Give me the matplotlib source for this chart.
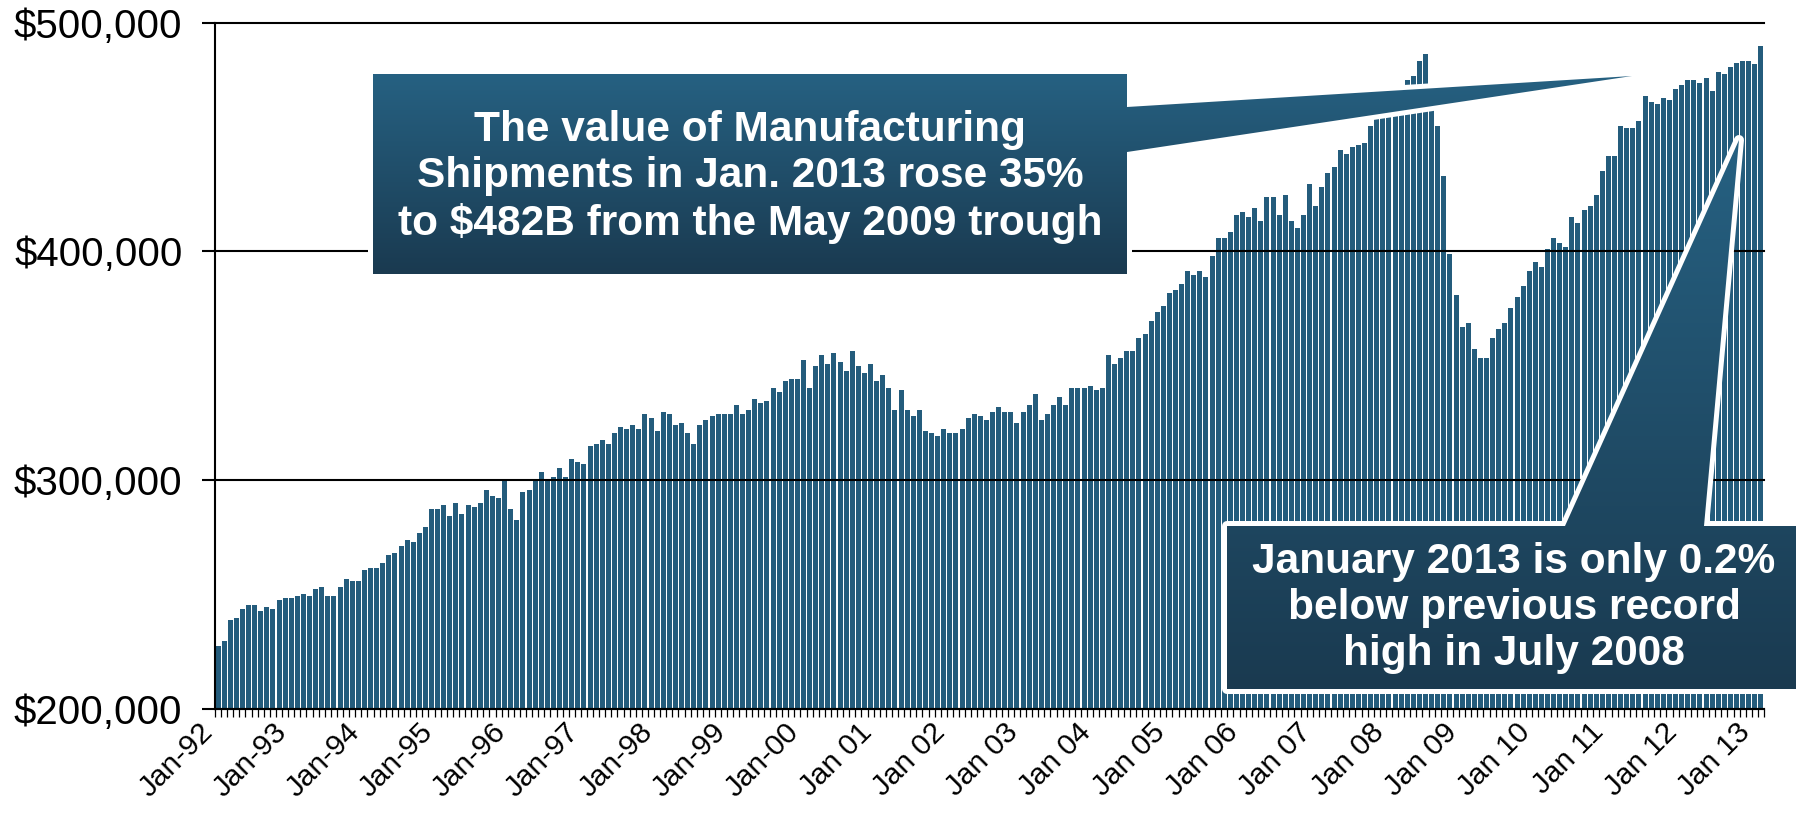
import numpy as np
import matplotlib
matplotlib.use('Agg')
import matplotlib.pyplot as plt
import matplotlib.transforms as mtransforms
from matplotlib.patches import Polygon
from matplotlib.colors import LinearSegmentedColormap
from matplotlib.ticker import StrMethodFormatter

# Value of manufacturing shipments, $ millions, monthly Jan 1992 - Feb 2013
shipments = [
    227500, 229700, 238900, 239800, 243700, 245500, 245500, 242900, 244600, 243700, 247700, 248500,  # 1992
    248500, 249400, 250300, 249400, 252500, 253400, 249400, 249400, 253400, 256900, 256000, 256000,  # 1993
    260800, 261700, 261700, 263900, 267300, 268200, 271300, 273900, 273000, 277000, 279600, 287500,  # 1994
    287500, 289200, 284400, 290100, 285300, 289200, 288300, 290100, 295800, 293100, 292300, 300600,  # 1995
    287500, 282700, 294900, 295800, 299700, 303600, 299500, 301500, 305400, 301500, 309300, 308000,  # 1996
    307100, 315000, 315900, 317600, 315900, 320700, 323300, 322400, 324200, 322400, 329000, 327300,  # 1997
    321600, 329900, 329000, 324200, 325100, 320700, 315900, 324200, 326400, 328100, 329000, 329000,  # 1998
    329000, 332900, 329000, 330800, 335600, 333800, 334700, 340400, 338600, 343400, 344300, 344300,  # 1999
    352600, 340400, 350000, 354800, 350900, 355700, 351700, 347800, 356600, 350000, 346900, 350900,  # 2000
    343400, 346100, 340400, 330800, 339500, 330800, 328100, 330800, 321600, 320700, 319400, 322400,  # 2001
    320700, 320700, 322400, 327300, 329000, 328100, 326400, 329900, 332100, 329900, 329900, 325100,  # 2002
    329900, 332900, 337800, 326400, 329000, 332900, 336400, 332900, 340400, 340400, 340400, 341300,  # 2003
    339500, 340400, 354800, 350900, 353500, 356600, 356600, 362200, 364000, 369700, 373600, 376200,  # 2004
    381900, 383200, 385900, 391500, 389800, 391500, 388900, 398100, 406000, 406000, 408600, 416000,  # 2005
    417300, 415200, 419100, 413400, 423900, 423900, 416000, 424800, 413400, 410300, 416000, 429600,  # 2006
    420000, 428300, 434400, 437000, 444500, 442700, 445800, 446600, 447500, 455000, 461000, 462000,  # 2007
    463000, 465000, 468000, 475100, 476800, 483400, 486400, 468000, 455000, 433100, 399000, 381000,  # 2008
    367100, 368800, 357400, 353500, 353500, 362200, 366200, 368800, 375400, 380200, 385000, 391500,  # 2009
    395500, 393300, 401200, 406000, 403800, 402000, 415200, 412500, 418200, 420000, 424800, 435300,  # 2010
    441800, 441800, 455000, 454100, 454100, 457100, 468100, 465400, 464600, 467200, 466300, 471100,  # 2011
    472900, 475100, 475100, 473800, 476000, 470300, 478600, 477700, 480800, 482500, 483400, 483400,  # 2012
    482000, 490000,                                                                                  # 2013
]

year_labels = ['Jan-92', 'Jan-93', 'Jan-94', 'Jan-95', 'Jan-96', 'Jan-97', 'Jan-98',
               'Jan-99', 'Jan-00', 'Jan 01', 'Jan 02', 'Jan 03', 'Jan 04', 'Jan 05',
               'Jan 06', 'Jan 07', 'Jan 08', 'Jan 09', 'Jan 10', 'Jan 11', 'Jan 12',
               'Jan 13']
y_ticks = [200000, 300000, 400000, 500000]

note_growth = ('The value of Manufacturing\n'
               'Shipments in Jan. 2013 rose 35%\n'
               'to $482B from the May 2009 trough')
note_record = ('January 2013 is only 0.2%\n'
               'below previous record\n'
               'high in July 2008')

BAR_COLOR = '#245c7c'
BOX_TOP = '#266182'
BOX_BOTTOM = '#1a3a50'

W, H = 1802, 815
plt.rcParams['font.family'] = 'Liberation Sans'

fig = plt.figure(figsize=(W / 100, H / 100), dpi=100)
ax = fig.add_axes([215 / W, 1 - 709 / H, 1549 / W, (709 - 22.7) / H])

months = np.arange(len(shipments))
ax.bar(months, shipments, width=0.82, color=BAR_COLOR, linewidth=0)
ax.set_xlim(-0.5, len(shipments) - 0.5)
ax.set_ylim(y_ticks[0], y_ticks[-1])

# gridlines sit on top of the bars
ax.set_axisbelow(False)
ax.set_yticks(y_ticks)
ax.yaxis.set_major_formatter(StrMethodFormatter('${x:,.0f}'))
ax.yaxis.grid(True, color='black', linewidth=1.5)
for gl in ax.get_ygridlines():
    gl.set_clip_on(False)
ax.tick_params(axis='y', length=9.4, width=1.5, color='black', labelsize=29, pad=14)

# one small tick between every month
ax.set_xticks([])
ax.set_xticks(np.arange(-0.5, len(shipments) + 0.5, 1), minor=True)
ax.tick_params(axis='x', which='minor', length=5.5, width=0.9, color='black', direction='out')

for side in ['top', 'right']:
    ax.spines[side].set_visible(False)
for side in ['left', 'bottom']:
    ax.spines[side].set_linewidth(1.5)
    ax.spines[side].set_color('black')

label_trans = mtransforms.offset_copy(ax.transData, fig=fig, x=-19, y=-9, units='dots')
for k, lab in enumerate(year_labels):
    ax.text(12 * k, y_ticks[0], lab, transform=label_trans, rotation=45,
            rotation_mode='anchor', ha='right', va='top', fontsize=21.5, clip_on=False)

# overlay in pixel units for the two callouts
ov = fig.add_axes([0, 0, 1, 1])
ov.set_xlim(0, W)
ov.set_ylim(H, 0)
ov.axis('off')

box_cmap = LinearSegmentedColormap.from_list('box', [BOX_TOP, BOX_BOTTOM])
gradient = np.linspace(0, 1, 256).reshape(-1, 1)


def draw_callout(verts, text, text_xy):
    halo = Polygon(verts, closed=True, facecolor='white', edgecolor='white',
                   linewidth=7.2, joinstyle='round', zorder=1)
    ov.add_patch(halo)
    body = Polygon(verts, closed=True, facecolor='none', edgecolor='none', zorder=2)
    ov.add_patch(body)
    xs, ys = zip(*verts)
    img = ov.imshow(gradient, cmap=box_cmap, aspect='auto', interpolation='bilinear',
                    extent=(min(xs), max(xs), max(ys), min(ys)), zorder=2)
    img.set_clip_path(body)
    ov.text(text_xy[0], text_xy[1], text, color='white', fontsize=30.5,
            fontweight='bold', ha='center', va='center', linespacing=1.2, zorder=3)


draw_callout([(373, 74), (1127, 74), (1127, 107), (1632, 76), (1127, 152),
              (1127, 274), (373, 274)], note_growth, (750, 177))
draw_callout([(1227, 526), (1565, 526), (1739, 140), (1704, 526), (1796, 526),
              (1796, 689), (1227, 689)], note_record, (1514, 608))

ov.set_xlim(0, W)
ov.set_ylim(H, 0)

fig.savefig('out.png', dpi=100)
